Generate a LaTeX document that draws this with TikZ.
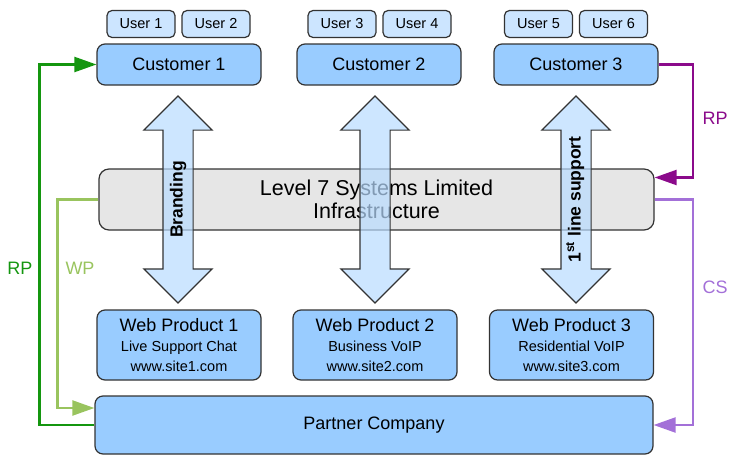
\documentclass[tikz,border=0pt]{standalone}
\usepackage{fontspec}
\setmainfont{Liberation Sans}
\usetikzlibrary{arrows.meta}
\usetikzlibrary{shapes.arrows}

\definecolor{edgegrey}{HTML}{333333}
\definecolor{userblue}{HTML}{CCE5FF}
\definecolor{boxblue}{HTML}{99CCFF}
\definecolor{infragrey}{HTML}{E6E6E6}
\definecolor{flowblue}{HTML}{B8DBFF}
\definecolor{rpgreen}{HTML}{14960F}
\definecolor{wpgreen}{HTML}{99C45E}
\definecolor{rppurple}{HTML}{8B0A8B}
\definecolor{cspurple}{HTML}{A370D8}

\newcommand{\subline}[1]{{\fontsize{14.5}{17}\selectfont #1}}

\begin{document}
\begin{tikzpicture}
    [x=1pt,y=-1pt,
    user/.style={rectangle,rounded corners=5pt,draw=edgegrey,fill=userblue,line width=1.2pt,
      inner sep=0pt,minimum width=68pt,minimum height=27pt,font=\fontsize{14.5}{16}\selectfont},
    customer/.style={rectangle,rounded corners=8pt,draw=edgegrey,fill=boxblue,line width=1.2pt,
      inner sep=0pt,minimum width=164pt,minimum height=41pt,font=\fontsize{18}{20}\selectfont},
    product/.style={customer,minimum height=70pt,align=center},
    infra/.style={rectangle,rounded corners=10pt,draw=edgegrey,fill=infragrey,line width=1.2pt,
      inner sep=0pt,minimum width=555pt,minimum height=61pt,align=center,
      font=\fontsize{21.5}{23}\selectfont},
    flow/.style={double arrow,draw=edgegrey,fill=flowblue,fill opacity=0.7,text opacity=1,
      line width=1.2pt,rotate=90,inner xsep=0pt,inner ysep=7pt,text height=12pt,text depth=3pt,
      minimum height=207pt,minimum width=67pt,
      double arrow head extend=19pt,double arrow head indent=0pt,
      font=\bfseries\fontsize{17.5}{18}\selectfont},
    link/.style={line width=2.2pt,-{Triangle[length=22pt,width=15pt]}},
    tag/.style={font=\fontsize{18}{20}\selectfont}]

    \useasboundingbox (0,0) rectangle (730,455);

    % middle layer first, so the arrows lie over it
    \node[infra]    (infra)      at (376.5,199.5) {Level 7 Systems Limited\\Infrastructure};

    \node[flow]     (branding)   at (178,199.5)  {Branding};
    \node[flow]     (service)    at (375,199.5)  {};
    \node[flow]     (support)    at (576,199.5)  {1\textsuperscript{st} line support};

    \node[user]     (user 1)     at (141,24)   {User 1};
    \node[user]     (user 2)     at (216,24)   {User 2};
    \node[user]     (user 3)     at (342,24)   {User 3};
    \node[user]     (user 4)     at (417,24)   {User 4};
    \node[user]     (user 5)     at (538.5,24) {User 5};
    \node[user]     (user 6)     at (613.5,24) {User 6};

    \node[customer] (customer 1) at (179,64.5) {Customer 1};
    \node[customer] (customer 2) at (379,64.5) {Customer 2};
    \node[customer] (customer 3) at (576,64.5) {Customer 3};

    \node[product]  (product 1)  at (179,345)   {Web Product 1\\\subline{Live Support Chat}\\\subline{www.site1.com}};
    \node[product]  (product 2)  at (375,345)   {Web Product 2\\\subline{Business VoIP}\\\subline{www.site2.com}};
    \node[product]  (product 3)  at (571.5,345) {Web Product 3\\\subline{Residential VoIP}\\\subline{www.site3.com}};

    \node[customer,minimum width=558pt,minimum height=58pt] (partner) at (374,425) {Partner Company};

    % payment and support lines
    \draw[link,rpgreen]  (partner.west) -- ++(-55,0) |- (customer 1.west);
    \draw[link,wpgreen]  (infra.west) -- ++(-41,0) |- ([yshift=17pt]partner.west);
    \draw[link,rppurple] (customer 3.east) -- ++(34,0) |- ([yshift=22pt]infra.east);
    \draw[link,cspurple] (infra.east) -- ++(38,0) |- (partner.east);

    \node[tag,text=rpgreen]  (rp left)  at (20,268)  {RP};
    \node[tag,text=wpgreen]  (wp left)  at (80,268)  {WP};
    \node[tag,text=rppurple] (rp right) at (715,118) {RP};
    \node[tag,text=cspurple] (cs right) at (715,287) {CS};
  \end{tikzpicture}
\end{document}
